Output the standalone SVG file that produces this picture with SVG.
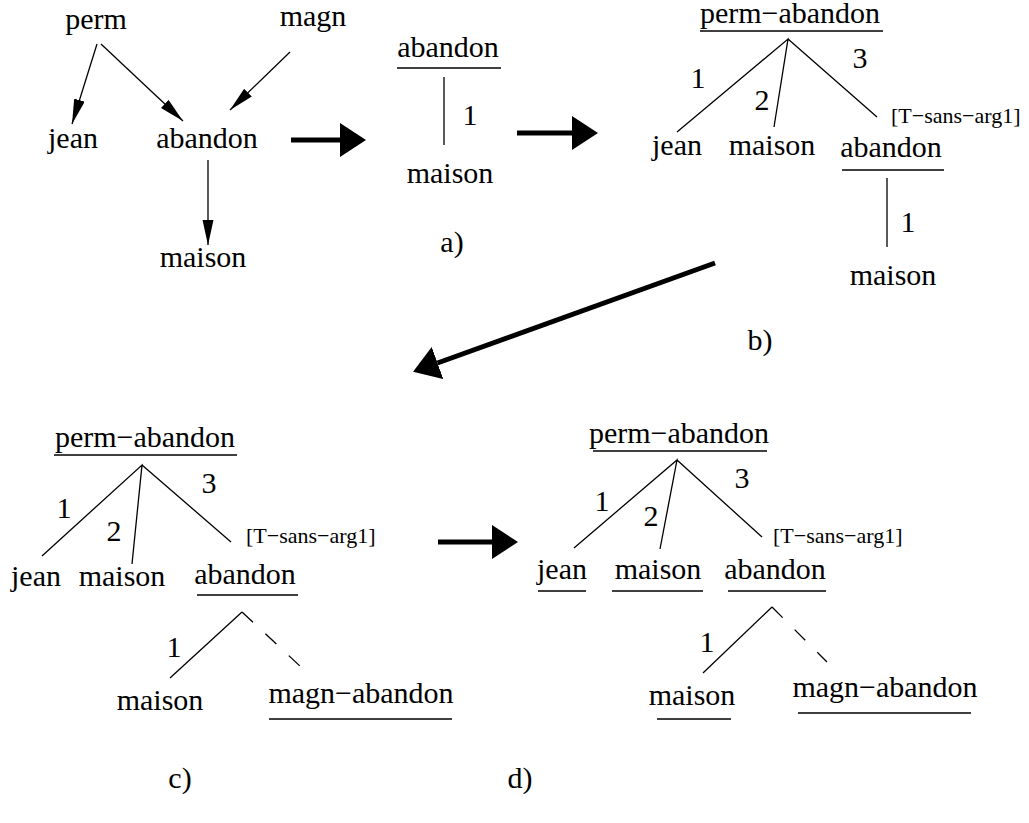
<svg xmlns="http://www.w3.org/2000/svg" width="1029" height="823" viewBox="0 0 1029 823" font-family="'Liberation Serif', 'Times New Roman', Times, 'DejaVu Serif', serif">
<style>
text{font-family:'Liberation Serif','Times New Roman',Times,'DejaVu Serif',serif;fill:#000}
.t{font-size:30px;text-anchor:middle}
.s{font-size:22px}
.l{stroke:#000;stroke-width:1.3;fill:none}
.u{stroke:#000;stroke-width:1.3}
.d{stroke:#000;stroke-width:1.3;stroke-dasharray:15 17;fill:none}
.big{stroke:#000;stroke-width:5;fill:none}
</style>
<defs>
<marker id="ah" markerUnits="userSpaceOnUse" markerWidth="26" markerHeight="12" refX="25" refY="5.5" orient="auto" viewBox="0 0 26 12">
<path d="M0,0 L25,5.5 L0,11 z" fill="#000"/>
</marker>
<marker id="bh" markerUnits="userSpaceOnUse" markerWidth="27" markerHeight="35" refX="0" refY="17" orient="auto" viewBox="0 0 27 35">
<path d="M0,0 L26,17 L0,34 z" fill="#000"/>
</marker>
</defs>
<rect width="1029" height="823" fill="#fff"/>

<g id="connectors">
<line class="l" x1="97" y1="44" x2="72" y2="124" marker-end="url(#ah)"/>
<line class="l" x1="101" y1="44" x2="183" y2="121" marker-end="url(#ah)"/>
<line class="l" x1="290" y1="52" x2="230" y2="110" marker-end="url(#ah)"/>
<line class="l" x1="208" y1="160" x2="208" y2="245" marker-end="url(#ah)"/>
<line class="big" x1="291" y1="140" x2="340" y2="140" marker-end="url(#bh)"/>
<line class="big" x1="517" y1="133" x2="572" y2="133" marker-end="url(#bh)"/>
<line class="big" x1="715" y1="263" x2="437.5" y2="363" marker-end="url(#bh)"/>
<line class="big" x1="438" y1="542" x2="492" y2="542" marker-end="url(#bh)"/>
<line class="l" x1="444" y1="77" x2="444" y2="145"/>
<path class="l" d="M677,132 L788,39 L774,127 M788,39 L877,117"/>
<line class="l" x1="887" y1="178" x2="887" y2="247"/>
<path class="l" d="M42,556 L142,465 L132,564 M142,465 L231,542"/>
<line class="l" x1="242" y1="612" x2="170" y2="678"/>
<line class="d" x1="242" y1="612" x2="301" y2="667"/>
<path class="l" d="M574,548 L677,460 L660,549 M677,460 L762,537"/>
<line class="l" x1="772" y1="607" x2="703" y2="673"/>
<line class="d" x1="772" y1="607" x2="827" y2="662"/>
</g>

<g id="graph">
<g id="g-perm"><text class="t" x="96" y="29">perm</text></g>
<g id="g-magn"><text class="t" x="313" y="26">magn</text></g>
<g id="g-jean"><text class="t" x="73" y="148">jean</text></g>
<g id="g-abandon"><text class="t" x="207" y="148">abandon</text></g>
<g id="g-maison"><text class="t" x="203" y="267">maison</text></g>
</g>

<g id="panel-a">
<g id="a-abandon"><text class="t" x="448" y="57">abandon</text><line class="u" x1="397" y1="68" x2="501" y2="68"/></g>
<g id="a-label1"><text class="t" x="470" y="125">1</text></g>
<g id="a-maison"><text class="t" x="450" y="183">maison</text></g>
<g id="a-caption"><text class="t" x="452" y="252">a)</text></g>
</g>

<g id="panel-b">
<g id="b-perm-abandon"><text class="t" x="790" y="23">perm−abandon</text><line class="u" x1="700" y1="31" x2="883" y2="31"/></g>
<g id="b-labels"><text class="t" x="698" y="88">1</text><text class="t" x="762" y="110">2</text><text class="t" x="860" y="68">3</text></g>
<g id="b-tsans"><text class="s" x="891" y="123">[T−sans−arg1]</text></g>
<g id="b-jean"><text class="t" x="677" y="155">jean</text></g>
<g id="b-maison"><text class="t" x="772" y="155">maison</text></g>
<g id="b-abandon"><text class="t" x="891" y="157">abandon</text><line class="u" x1="842" y1="170" x2="944" y2="170"/></g>
<g id="b-label1"><text class="t" x="908" y="232">1</text></g>
<g id="b-maison2"><text class="t" x="893" y="285">maison</text></g>
<g id="b-caption"><text class="t" x="760" y="350">b)</text></g>
</g>

<g id="panel-c">
<g id="c-perm-abandon"><text class="t" x="145" y="447">perm−abandon</text><line class="u" x1="54" y1="455" x2="237" y2="455"/></g>
<g id="c-labels"><text class="t" x="64" y="518">1</text><text class="t" x="114" y="541">2</text><text class="t" x="209" y="493">3</text></g>
<g id="c-tsans"><text class="s" x="246" y="543">[T−sans−arg1]</text></g>
<g id="c-jean"><text class="t" x="36" y="586">jean</text></g>
<g id="c-maison"><text class="t" x="122" y="586">maison</text></g>
<g id="c-abandon"><text class="t" x="245" y="584">abandon</text><line class="u" x1="197" y1="595" x2="298" y2="595"/></g>
<g id="c-label1"><text class="t" x="174" y="657">1</text></g>
<g id="c-maison2"><text class="t" x="160" y="710">maison</text></g>
<g id="c-magn-abandon"><text class="t" x="361" y="703">magn−abandon</text><line class="u" x1="269" y1="719" x2="452" y2="719"/></g>
<g id="c-caption"><text class="t" x="180" y="788">c)</text></g>
</g>

<g id="panel-d">
<g id="d-perm-abandon"><text class="t" x="679" y="443">perm−abandon</text><line class="u" x1="593" y1="451" x2="767" y2="451"/></g>
<g id="d-labels"><text class="t" x="602" y="511">1</text><text class="t" x="651" y="526">2</text><text class="t" x="742" y="488">3</text></g>
<g id="d-tsans"><text class="s" x="773" y="543">[T−sans−arg1]</text></g>
<g id="d-jean"><text class="t" x="562" y="579">jean</text><line class="u" x1="538" y1="591" x2="586" y2="591"/></g>
<g id="d-maison"><text class="t" x="658" y="579">maison</text><line class="u" x1="612" y1="591" x2="703" y2="591"/></g>
<g id="d-abandon"><text class="t" x="775" y="579">abandon</text><line class="u" x1="728" y1="591" x2="826" y2="591"/></g>
<g id="d-label1"><text class="t" x="707" y="652">1</text></g>
<g id="d-maison2"><text class="t" x="692" y="705">maison</text><line class="u" x1="657" y1="719" x2="731" y2="719"/></g>
<g id="d-magn-abandon"><text class="t" x="885" y="697">magn−abandon</text><line class="u" x1="798" y1="713" x2="971" y2="713"/></g>
<g id="d-caption"><text class="t" x="520" y="788">d)</text></g>
</g>
</svg>
